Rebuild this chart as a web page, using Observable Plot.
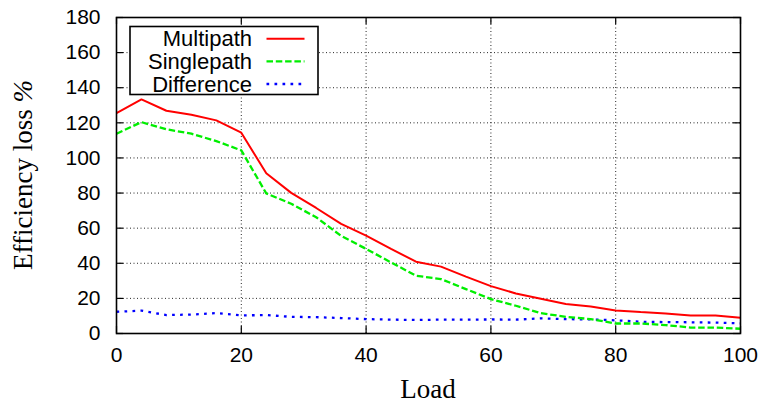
<!DOCTYPE html>
<html>
<head>
<meta charset="utf-8">
<script src="https://cdn.jsdelivr.net/npm/d3@7"></script>
<script src="https://cdn.jsdelivr.net/npm/@observablehq/plot@0.6"></script>
<style>
  html, body { margin: 0; padding: 0; background: #fff; }
</style>
</head>
<body>
<div id="chart"></div>
<script>
const load = [0,4,8,12,16,20,24,28,32,36,40,44,48,52,56,60,64,68,72,76,80,84,88,92,96,100];
const multipath = [125.6,133.4,126.9,124.6,121.4,114.4,91.3,80.1,71.5,62.4,55.8,48.2,40.9,38.1,32.4,27.0,22.8,19.8,16.8,15.4,13.1,12.2,11.4,10.3,10.3,9.0];
const singlepath = [113.8,120.4,116.3,113.8,109.6,104.3,79.8,73.9,66.2,55.6,48.2,40.5,32.9,31.0,25.3,19.6,15.8,11.6,9.5,8.2,5.7,5.7,4.8,3.4,3.4,2.7];
const difference = [12.4,13.0,10.5,10.8,11.6,10.3,10.5,9.5,9.3,8.8,8.2,7.9,7.7,7.9,7.9,8.0,7.9,8.6,8.2,8.0,7.5,6.7,6.5,6.4,6.2,5.8];
const xTicks = [0,20,40,60,80,100];
const yTicks = [0,20,40,60,80,100,120,140,160,180];
const seriesNames = ["Multipath","Singlepath","Difference"];
const seriesColors = ["#ff0000","#00ee00","#0000ff"];
const seriesDash = [null,"6.5,2.8","2.7,5.3"];

const W = 764, H = 405;
const mL = 116, mR = 24, mT = 17, mB = 72;
const iw = W - mL - mR, ih = H - mT - mB;
const tk = 7;

const sans = "'Liberation Sans', Arial, Helvetica, sans-serif";
const serif = "'Liberation Serif', 'Times New Roman', serif";

const lineMark = (vals, i) => Plot.line(load.map((x,j)=>({x, y: vals[j]})), {
  x: "x", y: "y", stroke: seriesColors[i], strokeWidth: i===0 ? 2 : 2.3,
  strokeDasharray: seriesDash[i] || undefined, strokeLinejoin: "miter", strokeLinecap: "butt"
});

const plot = Plot.plot({
  width: W, height: H,
  marginLeft: mL, marginRight: mR, marginTop: mT, marginBottom: mB,
  style: {background: "#fff", overflow: "visible"},
  x: {domain: [0,100]},
  y: {domain: [0,180]},
  marks: [
    Plot.gridX(xTicks.slice(1,-1), {stroke: "#000", strokeOpacity: 0.85, strokeDasharray: "1,2.5", strokeWidth: 1}),
    Plot.gridY(yTicks.slice(1,-1), {stroke: "#000", strokeOpacity: 0.85, strokeDasharray: "1,2.5", strokeWidth: 1}),
    Plot.tickY(yTicks, {y: d=>d, insetRight: iw - tk, stroke: "#000", strokeWidth: 1.2}),
    Plot.tickY(yTicks, {y: d=>d, insetLeft: iw - tk, stroke: "#000", strokeWidth: 1.2}),
    Plot.tickX(xTicks, {x: d=>d, insetTop: ih - tk, stroke: "#000", strokeWidth: 1.2}),
    Plot.tickX(xTicks, {x: d=>d, insetBottom: ih - tk, stroke: "#000", strokeWidth: 1.2}),
    Plot.axisX(xTicks, {tickSize: 0, tickPadding: 14, fontSize: 21, fontFamily: sans, label: null, fill: "#000"}),
    Plot.axisY(yTicks, {tickSize: 0, tickPadding: 16, fontSize: 21, fontFamily: sans, label: null, fill: "#000"}),
    lineMark(difference, 2),
    lineMark(singlepath, 1),
    lineMark(multipath, 0),
    Plot.frame({stroke: "#000", strokeWidth: 1.6})
  ]
});

const svg = d3.select(plot);
// axis titles
svg.append("text")
  .attr("x", mL + iw/2).attr("y", 398)
  .attr("text-anchor", "middle")
  .attr("font-family", serif).attr("font-size", 27).attr("fill", "#000")
  .text("Load");
const yl = svg.append("text")
  .attr("transform", `translate(32,${mT + ih/2}) rotate(-90)`)
  .attr("text-anchor", "middle")
  .attr("font-family", serif).attr("font-size", 27).attr("fill", "#000");
yl.append("tspan").text("Efficiency loss ");
yl.append("tspan").attr("font-style", "italic").text("%");

// legend
const lg = svg.append("g");
lg.append("rect").attr("x", 130).attr("y", 26.5).attr("width", 188).attr("height", 68)
  .attr("fill", "#fff").attr("stroke", "#000").attr("stroke-width", 1.6);
const rowY = [38.7, 61.3, 84];
seriesNames.forEach((name, i) => {
  lg.append("text").attr("x", 252).attr("y", rowY[i]).attr("dy", "0.35em")
    .attr("text-anchor", "end").attr("font-family", sans).attr("font-size", 22).attr("fill", "#000")
    .text(name);
  lg.append("line").attr("x1", 266.5).attr("x2", 304.5).attr("y1", rowY[i]).attr("y2", rowY[i])
    .attr("stroke", seriesColors[i]).attr("stroke-width", i===0 ? 2 : 2.3)
    .attr("stroke-dasharray", seriesDash[i]);
});

document.getElementById("chart").appendChild(plot);
</script>
</body>
</html>
